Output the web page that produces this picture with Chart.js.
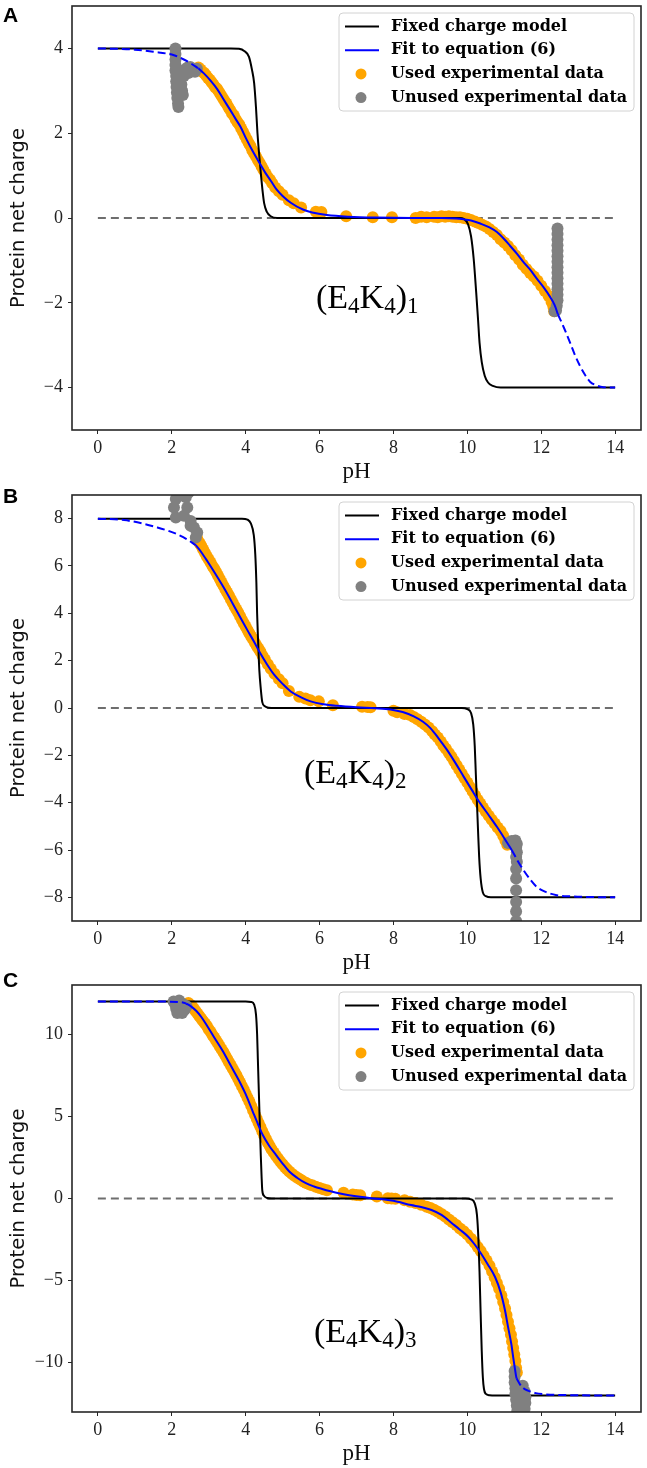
<!DOCTYPE html>
<html>
<head>
<meta charset="utf-8">
<script src="https://cdn.jsdelivr.net/npm/chart.js@4.4.1/dist/chart.umd.min.js"></script>
<style>
  body { margin: 0; background: #fff; }
  .panel { position: absolute; left: 0; width: 647px; }
</style>
</head>
<body>
<div class="panel" style="top:0;height:490px"><canvas id="chartA"></canvas></div>
<div class="panel" style="top:480px;height:500px"><canvas id="chartB"></canvas></div>
<div class="panel" style="top:962px;height:506px"><canvas id="chartC"></canvas></div>
<script>
// shared axis ticks
const xTicks = [0, 2, 4, 6, 8, 10, 12, 14];
const zeroLine = [[0, 0], [14, 0]];

// ---- panel A : (E4K4)1 ----
const yTicksA = [-4, -2, 0, 2, 4];
const fixedA = [[0,4],[3.6,4],[3.82,3.99],[3.96,3.94],[4.09,3.8],[4.17,3.5],[4.23,3.18],[4.28,2.6],[4.32,2.0],[4.37,1.45],[4.41,1.06],[4.46,0.62],[4.5,0.35],[4.57,0.15],[4.68,0.04],[4.85,0],
  [9.8,0],[9.9,-0.02],[10.02,-0.15],[10.1,-0.43],[10.17,-0.95],[10.24,-1.76],[10.29,-2.4],[10.33,-2.94],[10.39,-3.4],[10.47,-3.72],[10.56,-3.88],[10.69,-3.96],[10.9,-4],[14,-4]];
const fitLowA = [[0,4],[0.5,3.99],[1.0,3.97],[1.5,3.92],[2.06,3.84],[2.3,3.75],[2.51,3.65],[2.72,3.53]];
const fitA = [[2.72,3.53],[2.87,3.41],[3.05,3.24],[3.23,3.04],[3.4,2.8],[3.58,2.55],[3.72,2.35],[3.86,2.15],[4.02,1.86],[4.2,1.56],[4.38,1.29],[4.53,1.07],[4.68,0.88],[4.83,0.68],[5.0,0.52],[5.22,0.36],[5.55,0.2],[5.8,0.13],[6.2,0.07],[6.8,0.03],[7.5,0.01],[8.5,0],[9.3,0],[9.7,-0.01],[9.9,-0.03],[10.1,-0.06],[10.35,-0.13],[10.6,-0.22],[10.8,-0.33],[11.0,-0.5],[11.16,-0.66],[11.34,-0.84],[11.52,-1.04],[11.7,-1.22],[11.88,-1.43],[12.06,-1.63],[12.24,-1.86],[12.36,-2.05],[12.45,-2.27]];
const fitHighA = [[12.45,-2.27],[12.62,-2.6],[12.78,-2.94],[12.92,-3.25],[13.05,-3.49],[13.2,-3.72],[13.32,-3.86],[13.5,-3.95],[13.68,-3.99],[14,-4]];
const usedA = [[2.72,3.55],[2.78,3.5],[2.82,3.45],[2.88,3.42],[2.93,3.36],[2.98,3.3],[3.03,3.26],[3.08,3.2],[3.13,3.14],[3.18,3.08],[3.23,3.04],[3.28,2.97],[3.33,2.9],[3.38,2.83],[3.43,2.76],[3.48,2.7],[3.53,2.62],[3.58,2.55],[3.63,2.47],[3.68,2.42],[3.73,2.33],[3.78,2.26],[3.83,2.2],[3.88,2.11],[3.93,2.03],[3.98,1.94],[4.03,1.86],[4.08,1.77],[4.13,1.7],[4.18,1.6],[4.23,1.52],[4.28,1.45],[4.33,1.37],[4.38,1.3],[4.43,1.22],[4.48,1.14],[4.54,1.05],[4.6,0.96],[4.66,0.9],[4.72,0.82],[4.8,0.72],[4.9,0.63],[5.0,0.55],[5.17,0.42],[5.3,0.35],[5.5,0.25],[5.9,0.15],[6.05,0.14],[6.72,0.04],[7.44,0.02],[7.96,0.02],
  [8.6,0],[8.75,0.03],[8.9,0.02],[9.1,0.03],[9.2,0.02],[9.3,0.04],[9.4,0.03],[9.5,0.04],[9.6,0.03],[9.7,0.02],[9.8,0.02],[9.9,0],[10.0,-0.02],[10.1,-0.05],[10.2,-0.08],[10.3,-0.12],[10.4,-0.16],[10.5,-0.2],[10.6,-0.26],[10.7,-0.33],[10.8,-0.4],[10.9,-0.5],[11.0,-0.58],[11.1,-0.66],[11.2,-0.76],[11.3,-0.88],[11.4,-0.98],[11.5,-1.1],[11.6,-1.2],[11.7,-1.3],[11.8,-1.38],[11.9,-1.48],[12.0,-1.6],[12.1,-1.72],[12.2,-1.84],[12.28,-1.98],[12.33,-2.1],[12.35,-2.2]];
const unusedA = [[2.1,4.0],[2.1,3.87],[2.1,3.74],[2.1,3.61],[2.1,3.48],[2.12,3.35],[2.12,3.22],[2.13,3.09],[2.14,2.96],[2.15,2.83],[2.17,2.7],[2.18,2.62],[2.22,3.45],[2.24,3.3],[2.26,3.15],[2.28,3.0],[2.3,2.9],[2.33,3.35],[2.36,3.5],[2.43,3.55],[2.5,3.56],[2.57,3.5],[2.63,3.45],[2.68,3.52],[2.45,3.42],
  [12.44,-0.25],[12.44,-0.38],[12.44,-0.51],[12.44,-0.64],[12.44,-0.77],[12.44,-0.9],[12.44,-1.03],[12.44,-1.16],[12.44,-1.29],[12.44,-1.42],[12.44,-1.55],[12.44,-1.68],[12.44,-1.81],[12.44,-1.94],[12.42,-2.07],[12.4,-2.18],[12.36,-2.2]];

// ---- panel B : (E4K4)2 ----
const yTicksB = [-8, -6, -4, -2, 0, 2, 4, 6, 8];
const fixedB = [[0,8],[3.9,8],[4.05,7.96],[4.14,7.8],[4.22,7.3],[4.26,6.5],[4.29,5.3],[4.31,4.0],[4.34,2.7],[4.37,1.6],[4.41,0.8],[4.45,0.25],[4.52,0.07],[4.62,0.01],[4.8,0],
  [9.85,0],[10.0,-0.05],[10.1,-0.21],[10.16,-0.7],[10.2,-1.6],[10.23,-2.8],[10.26,-4.0],[10.29,-5.2],[10.32,-6.3],[10.36,-7.2],[10.42,-7.8],[10.5,-7.95],[10.64,-8],[14,-8]];
const fitLowB = [[0,8],[0.71,7.94],[1.2,7.8],[1.61,7.63],[1.9,7.49],[2.15,7.34],[2.4,7.14],[2.65,6.88]];
const fitB = [[2.65,6.88],[2.8,6.58],[2.96,6.21],[3.2,5.62],[3.41,5.08],[3.64,4.44],[3.86,3.81],[4.05,3.28],[4.22,2.82],[4.4,2.3],[4.58,1.84],[4.77,1.41],[5.0,1.02],[5.22,0.7],[5.5,0.45],[5.76,0.28],[6.1,0.16],[6.48,0.09],[7.0,0.03],[7.5,-0.01],[7.92,-0.06],[8.25,-0.17],[8.55,-0.35],[8.8,-0.58],[9.0,-0.85],[9.22,-1.28],[9.45,-1.77],[9.68,-2.33],[9.9,-2.9],[10.12,-3.46],[10.35,-4.03],[10.58,-4.53],[10.8,-5.02],[11.0,-5.5],[11.2,-6.0]];
const fitHighB = [[11.2,-6.0],[11.36,-6.45],[11.52,-6.85],[11.7,-7.24],[11.88,-7.56],[12.1,-7.76],[12.42,-7.91],[12.8,-7.96],[13.14,-7.98],[14,-8]];
const usedB = [[2.68,7.2],[2.72,7.05],[2.76,6.95],[2.8,6.85],[2.85,6.7],[2.9,6.55],[2.95,6.4],[3.0,6.28],[3.05,6.15],[3.1,6.0],[3.15,5.88],[3.2,5.75],[3.25,5.6],[3.3,5.45],[3.35,5.3],[3.4,5.16],[3.45,5.02],[3.5,4.88],[3.55,4.74],[3.6,4.6],[3.65,4.45],[3.7,4.3],[3.75,4.16],[3.8,4.02],[3.85,3.88],[3.9,3.72],[3.95,3.58],[4.0,3.44],[4.05,3.3],[4.1,3.16],[4.15,3.02],[4.2,2.9],[4.25,2.76],[4.3,2.62],[4.35,2.5],[4.4,2.38],[4.46,2.2],[4.52,2.05],[4.6,1.85],[4.68,1.66],[4.78,1.45],[4.9,1.22],[5.0,1.05],[5.17,0.72],[5.45,0.48],[5.62,0.4],[5.75,0.33],[5.98,0.28],[6.36,0.12],[7.15,0.05],[7.3,0.04],[7.38,0.03],
  [8.0,-0.12],[8.1,-0.18],[8.3,-0.25],[8.45,-0.3],[8.55,-0.38],[8.65,-0.48],[8.75,-0.58],[8.85,-0.7],[8.95,-0.82],[9.05,-0.98],[9.12,-1.12],[9.2,-1.25],[9.28,-1.42],[9.35,-1.58],[9.42,-1.72],[9.5,-1.9],[9.57,-2.06],[9.64,-2.24],[9.71,-2.42],[9.78,-2.6],[9.85,-2.78],[9.92,-2.96],[10.0,-3.15],[10.07,-3.34],[10.14,-3.52],[10.21,-3.7],[10.28,-3.88],[10.35,-4.04],[10.42,-4.2],[10.5,-4.38],[10.58,-4.55],[10.66,-4.72],[10.74,-4.88],[10.82,-5.05],[10.9,-5.2],[10.97,-5.4],[11.03,-5.6],[11.08,-5.78]];
const unusedB = [[2.06,8.47],[2.11,8.83],[2.11,8.05],[2.2,9.1],[2.33,8.12],[2.38,8.9],[2.42,8.47],[2.45,9.1],[2.51,7.9],[2.51,7.7],[2.6,7.63],[2.65,7.2],[2.69,7.42],[2.3,9.2],
  [11.1,-5.7],[11.2,-5.62],[11.3,-5.6],[11.34,-5.75],[11.32,-5.9],[11.34,-6.1],[11.32,-6.3],[11.34,-6.5],[11.32,-6.8],[11.32,-7.2],[11.32,-7.7],[11.32,-8.2],[11.32,-8.6],[11.32,-9.0]];

// ---- panel C : (E4K4)3 ----
const yTicksC = [-10, -5, 0, 5, 10];
const fixedC = [[0,12],[4.0,12],[4.15,11.97],[4.23,11.8],[4.28,11.2],[4.31,10],[4.33,8.5],[4.35,7],[4.37,5.5],[4.39,4],[4.41,2.6],[4.43,1.4],[4.45,0.5],[4.5,0.15],[4.58,0.03],[4.7,0],
  [9.95,0],[10.1,-0.05],[10.2,-0.3],[10.26,-1.0],[10.3,-2.5],[10.33,-4.5],[10.36,-7],[10.39,-9.3],[10.42,-10.9],[10.45,-11.6],[10.5,-11.9],[10.6,-11.98],[10.75,-12],[14,-12]];
const fitLowC = [[0,12],[1.0,12],[1.8,11.99],[2.3,11.94],[2.39,11.87]];
const fitC = [[2.39,11.87],[2.52,11.7],[2.66,11.43],[2.8,11.05],[2.93,10.61],[3.15,9.8],[3.38,8.98],[3.6,8.08],[3.83,7.14],[4.0,6.35],[4.19,5.31],[4.33,4.55],[4.46,3.88],[4.64,3.2],[4.82,2.66],[5.0,2.13],[5.18,1.64],[5.4,1.25],[5.63,0.93],[5.85,0.73],[6.07,0.58],[6.3,0.44],[6.52,0.32],[6.8,0.2],[7.1,0.1],[7.4,0.02],[7.7,-0.05],[8.0,-0.14],[8.48,-0.4],[8.75,-0.52],[9.03,-0.7],[9.3,-1.0],[9.59,-1.52],[9.8,-1.9],[10.03,-2.34],[10.2,-2.8],[10.37,-3.35],[10.55,-4.0],[10.75,-4.78],[10.9,-5.7],[11.02,-6.82],[11.1,-7.8],[11.19,-8.86],[11.25,-9.8],[11.31,-10.69],[11.33,-10.95]];
const fitHighC = [[11.33,-10.95],[11.42,-11.3],[11.52,-11.55],[11.64,-11.7],[11.85,-11.85],[12.09,-11.92],[13,-11.98],[14,-12]];
const usedC = [[2.45,11.9],[2.5,11.8],[2.55,11.7],[2.6,11.55],[2.65,11.4],[2.7,11.25],[2.75,11.1],[2.8,10.95],[2.85,10.8],[2.9,10.65],[2.95,10.5],[3.0,10.3],[3.05,10.15],[3.1,9.95],[3.15,9.8],[3.2,9.62],[3.25,9.45],[3.3,9.25],[3.35,9.08],[3.4,8.9],[3.45,8.7],[3.5,8.5],[3.55,8.3],[3.6,8.1],[3.65,7.9],[3.7,7.7],[3.75,7.5],[3.8,7.28],[3.85,7.06],[3.9,6.84],[3.95,6.62],[4.0,6.38],[4.05,6.14],[4.1,5.9],[4.15,5.64],[4.2,5.38],[4.25,5.12],[4.3,4.86],[4.35,4.6],[4.4,4.35],[4.45,4.1],[4.5,3.85],[4.55,3.62],[4.6,3.4],[4.65,3.2],[4.7,3.0],[4.76,2.8],[4.82,2.6],[4.88,2.42],[4.94,2.24],[5.0,2.08],[5.06,1.92],[5.12,1.78],[5.18,1.64],[5.25,1.5],[5.32,1.38],[5.4,1.26],[5.48,1.15],[5.56,1.04],[5.64,0.95],[5.72,0.86],[5.8,0.8],[5.9,0.72],[6.0,0.64],[6.1,0.57],[6.2,0.5],[6.65,0.35],[6.9,0.25],[7.0,0.22],[7.1,0.2],[7.55,0.12],[7.85,0.02],[7.95,0],[8.05,-0.02],
  [8.3,-0.1],[8.45,-0.2],[8.6,-0.28],[8.75,-0.38],[8.9,-0.5],[9.0,-0.58],[9.1,-0.68],[9.2,-0.8],[9.3,-0.95],[9.4,-1.1],[9.5,-1.28],[9.6,-1.45],[9.7,-1.62],[9.8,-1.82],[9.9,-2.0],[10.0,-2.2],[10.1,-2.45],[10.2,-2.7],[10.28,-2.95],[10.36,-3.2],[10.44,-3.48],[10.52,-3.78],[10.6,-4.1],[10.67,-4.45],[10.74,-4.8],[10.8,-5.15],[10.86,-5.5],[10.92,-5.9],[10.97,-6.3],[11.02,-6.7],[11.06,-7.1],[11.1,-7.5],[11.14,-7.9],[11.18,-8.3],[11.21,-8.7],[11.24,-9.1],[11.27,-9.5],[11.3,-9.9],[11.32,-10.3],[11.34,-10.6]];
const unusedC = [[2.05,12.0],[2.1,11.8],[2.12,11.55],[2.2,11.35],[2.28,11.3],[2.35,11.5],[2.3,11.85],[2.2,12.05],[2.4,11.7],[2.15,11.3],
  [11.28,-10.5],[11.28,-10.85],[11.28,-11.2],[11.3,-11.55],[11.3,-11.9],[11.32,-12.25],[11.34,-12.6],[11.35,-12.95],[11.5,-11.4],[11.55,-11.75],[11.57,-12.1],[11.57,-12.45],[11.55,-12.8],[11.45,-12.3],[11.45,-12.9]];

const pts = arr => arr.map(([x, y]) => ({ x, y }));
const tickFont = { family: '"Liberation Serif", serif', size: 18 };

// draws the axes box, legend, formula label and panel letter
const decorPlugin = {
    id: 'decor',
    afterDatasetsDraw(chart, args, opts) {
        const { ctx, chartArea: ca } = chart;
        ctx.save();
        // box around the plot
        ctx.strokeStyle = '#262626';
        ctx.lineWidth = 1.6;
        ctx.strokeRect(ca.left, ca.top, ca.right - ca.left, ca.bottom - ca.top);

        // legend
        const bw = 295, bh = 98;
        const bx = ca.right - 7 - bw, by = ca.top + 7;
        ctx.beginPath();
        ctx.roundRect(bx, by, bw, bh, 4);
        ctx.fillStyle = 'rgba(255,255,255,0.85)';
        ctx.fill();
        ctx.strokeStyle = '#d2d2d2';
        ctx.lineWidth = 1;
        ctx.stroke();
        const names = ['Fixed charge model', 'Fit to equation (6)', 'Used experimental data', 'Unused experimental data'];
        ctx.font = 'bold 16px "DejaVu Serif"';
        ctx.textBaseline = 'middle';
        names.forEach((name, i) => {
            const ds = chart.data.datasets.find(d => d.label === name);
            const y = by + 13.5 + i * 23.7;
            if (ds.showLine) {
                ctx.strokeStyle = ds.borderColor;
                ctx.lineWidth = 2;
                ctx.beginPath();
                ctx.moveTo(bx + 6, y);
                ctx.lineTo(bx + 40, y);
                ctx.stroke();
            } else {
                ctx.fillStyle = ds.backgroundColor;
                ctx.beginPath();
                ctx.arc(bx + 22, y, 5.5, 0, Math.PI * 2);
                ctx.fill();
            }
            ctx.fillStyle = '#000';
            ctx.fillText(name, bx + 52, y);
        });

        // formula label (E4K4)n
        ctx.textBaseline = 'alphabetic';
        ctx.fillStyle = '#000';
        const big = '34px "Liberation Serif"', small = '23px "Liberation Serif"';
        const parts = [['(E', big, 0], ['4', small, 5], ['K', big, 0], ['4', small, 5], [')', big, 0], [opts.sub, small, 5]];
        let cx = opts.textX;
        parts.forEach(([t, f, dy]) => {
            ctx.font = f;
            ctx.fillText(t, cx, opts.textY + dy);
            cx += ctx.measureText(t).width;
        });

        // panel letter
        ctx.font = 'bold 21px "Liberation Sans"';
        ctx.textBaseline = 'top';
        ctx.fillText(opts.letter, 3, opts.letterY);
        ctx.restore();
    }
};

function makePanel(id, p) {
    const solid = { showLine: true, pointRadius: 0, borderWidth: 2, cubicInterpolationMode: 'monotone', clip: 0 };
    new Chart(document.getElementById(id), {
        type: 'scatter',
        data: {
            datasets: [
                { label: 'zero', data: pts(zeroLine), ...solid, borderColor: '#6e6e6e', borderDash: [8, 5], order: 7 },
                { label: 'Used experimental data', data: pts(p.used), backgroundColor: '#ffa500', pointRadius: 6, pointBorderWidth: 0, clip: 0, order: 6 },
                { label: 'Fixed charge model', data: pts(p.fixed), ...solid, borderColor: '#000', order: 5 },
                { label: 'Unused experimental data', data: pts(p.unused), backgroundColor: '#808080', pointRadius: 6, pointBorderWidth: 0, clip: 0, order: 4 },
                { label: 'fit low', data: pts(p.fitLow), ...solid, borderColor: '#0000ff', borderDash: [8, 4], order: 3 },
                { label: 'fit high', data: pts(p.fitHigh), ...solid, borderColor: '#0000ff', borderDash: [8, 4], order: 2 },
                { label: 'Fit to equation (6)', data: pts(p.fit), ...solid, borderColor: '#0000ff', order: 1 }
            ]
        },
        options: {
            animation: false,
            responsive: true,
            maintainAspectRatio: false,
            layout: { padding: { top: p.padTop, right: 3, bottom: 0, left: 0 } },
            plugins: {
                legend: { display: false },
                tooltip: { enabled: false },
                decor: { letter: p.letter, letterY: p.letterY, sub: p.sub, textX: p.textX, textY: p.textY }
            },
            scales: {
                x: {
                    type: 'linear', min: -0.7, max: 14.7,
                    afterBuildTicks: s => { s.ticks = xTicks.map(v => ({ value: v })); },
                    afterFit: s => { s.height = p.xHeight; s.paddingLeft = 0; s.paddingRight = 0; },
                    border: { display: false },
                    grid: { drawOnChartArea: false, drawTicks: true, tickLength: 4, color: '#262626' },
                    ticks: { font: tickFont, color: '#222', padding: 3, callback: v => String(v) },
                    title: { display: true, text: 'pH', color: '#111', font: { family: '"Liberation Serif", serif', size: 23 }, padding: { top: 0, bottom: p.titlePad } }
                },
                y: {
                    type: 'linear', min: p.yMin, max: p.yMax,
                    afterBuildTicks: s => { s.ticks = p.yTicks.map(v => ({ value: v })); },
                    afterFit: s => { s.width = 72; s.paddingTop = 0; s.paddingBottom = 0; },
                    border: { display: false },
                    grid: { drawOnChartArea: false, drawTicks: true, tickLength: 4, color: '#262626' },
                    ticks: { font: tickFont, color: '#222', padding: 5, callback: v => String(v).replace('-', '\u2212') },
                    title: { display: true, text: 'Protein net charge', color: '#111', font: { family: '"DejaVu Sans"', size: 19.5 }, padding: { top: 7, bottom: 0 } }
                }
            }
        },
        plugins: [decorPlugin]
    });
}

makePanel('chartA', { fixed: fixedA, fitLow: fitLowA, fit: fitA, fitHigh: fitHighA, used: usedA, unused: unusedA,
    yMin: -5, yMax: 5, yTicks: yTicksA, padTop: 4, xHeight: 60, titlePad: 4,
    letter: 'A', letterY: 6, sub: '1', textX: 316, textY: 308 });
makePanel('chartB', { fixed: fixedB, fitLow: fitLowB, fit: fitB, fitHigh: fitHighB, used: usedB, unused: unusedB,
    yMin: -9, yMax: 9, yTicks: yTicksB, padTop: 15, xHeight: 59, titlePad: 3,
    letter: 'B', letterY: 7, sub: '2', textX: 304, textY: 303 });
makePanel('chartC', { fixed: fixedC, fitLow: fitLowC, fit: fitC, fitHigh: fitHighC, used: usedC, unused: unusedC,
    yMin: -13, yMax: 13, yTicks: yTicksC, padTop: 23, xHeight: 56, titlePad: 0,
    letter: 'C', letterY: 9, sub: '3', textX: 314, textY: 380 });
</script>
</body>
</html>
